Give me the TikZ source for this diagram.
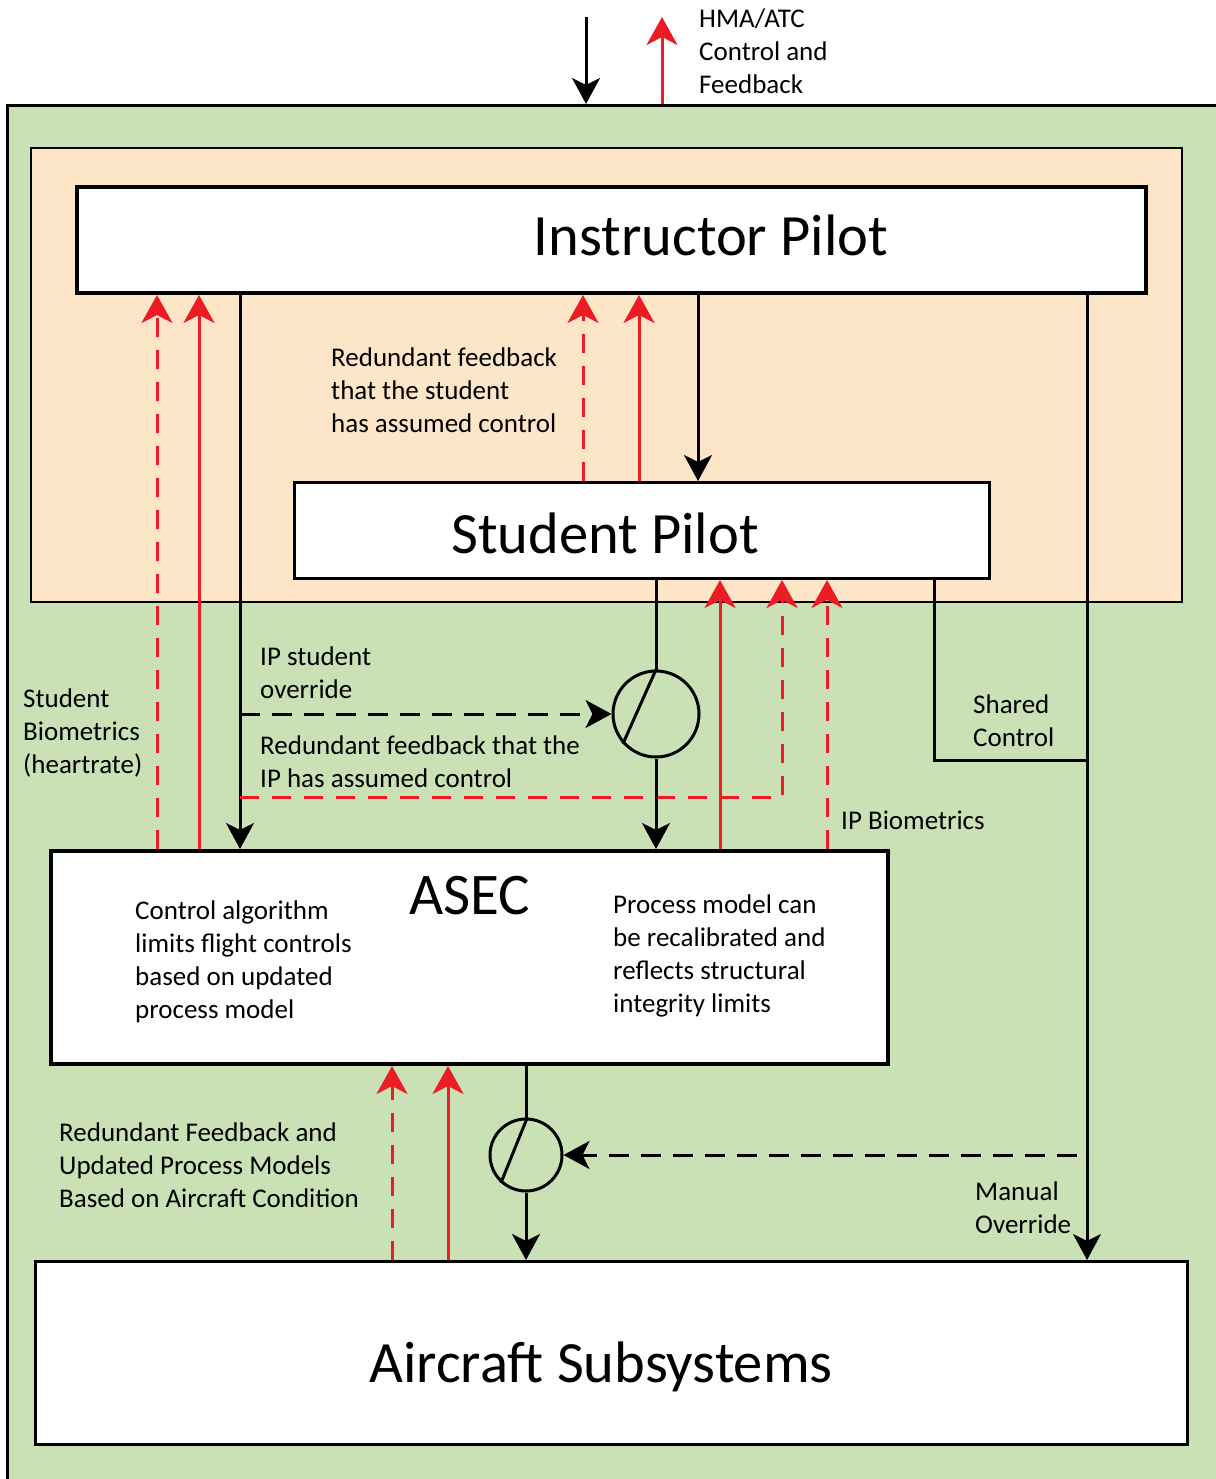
\documentclass[tikz,border=0pt]{standalone}
\usepackage{fontspec}
\setmainfont{Carlito}
\usetikzlibrary{arrows.meta}
\definecolor{bggreen}{RGB}{201,225,181}
\definecolor{peach}{RGB}{253,230,200}
\definecolor{fbred}{RGB}{237,28,36}

\begin{document}
\begin{tikzpicture}[x=1pt,y=-1pt,
  box/.style={draw=black, line width=4pt, fill=white, inner sep=0pt},
  title/.style={font=\fontsize{58.5}{66}\selectfont, anchor=base, inner sep=0pt},
  % multi-line labels are placed by the baseline of their last line
  lbl/.style={font=\fontsize{27}{33}\selectfont, align=left, anchor=base west, inner sep=0pt},
  ctl/.style={draw=black, line width=3pt},
  ctlarr/.style={ctl, -{Stealth[length=26pt,width=28pt,inset=7pt]}},
  ctldash/.style={ctlarr, dash pattern=on 20pt off 12pt},
  fb/.style={draw=fbred, line width=3pt, -{Stealth[length=28pt,width=31pt,inset=8pt]}},
  fbdash/.style={fb, dash pattern=on 19pt off 13pt},
  switch/.style={circle, draw=black, line width=3pt, fill=none, inner sep=0pt},
  ]
\useasboundingbox (0,0) rectangle (1215,1479);

% environment and cockpit regions
\node[draw=black, line width=3pt, fill=bggreen, inner sep=0pt,
      minimum width=1230pt, minimum height=1400pt, anchor=north west] (env) at (6,104) {};
\node[draw=black, line width=2pt, fill=peach, inner sep=0pt,
      minimum width=1151pt, minimum height=454pt, anchor=north west] (cockpit) at (30,147) {};

% main blocks
\node[box, minimum width=1069pt, minimum height=106pt, anchor=north west] (ip) at (75,185) {};
\node[title] (ipT) at (711,255) {Instructor Pilot};
\node[box, line width=3pt, minimum width=695pt, minimum height=96pt, anchor=north west] (sp) at (293,481) {};
\node[title] (spT) at (605,553) {Student Pilot};
\node[box, minimum width=837pt, minimum height=213pt, anchor=north west] (asec) at (49,849) {};
\node[font=\fontsize{59}{66}\selectfont, anchor=base, inner sep=0pt] (asecT) at (470,914) {ASEC};
\node[box, line width=3pt, minimum width=1152pt, minimum height=183pt, anchor=north west] (ac) at (34,1260) {};
\node[title] (acT) at (601,1382) {Aircraft Subsystems};

% switches
\node[switch, minimum size=86pt] (sw1) at (656,714) {};
\draw[ctl] (sw1.90) -- (sw1.222);
\node[switch, minimum size=72pt] (sw2) at (526,1155) {};
\draw[ctl] (sw2.88) -- (sw2.228);

% column positions of the vertical connectors
\foreach \cx in {157,199,240,392,448,583,639,698,720,782,827,934,1087}
  \coordinate (c\cx) at (\cx,0);
\coordinate (hin) at (586,17);
\coordinate (hout) at (662,17);
\coordinate (ovr) at (240,714);
\coordinate (ipfb) at (240,797);
\coordinate (shj) at (1087,760);
\coordinate (mo) at (1077,1155);

% external control and feedback
\draw[ctlarr] (hin) -- (env.north -| hin);
\draw[fb] (env.north -| hout) -- (hout);

% ASEC <-> instructor pilot
\draw[fbdash] (asec.north -| c157) -- (ip.south -| c157);
\draw[fb] (asec.north -| c199) -- (ip.south -| c199);
\draw[ctlarr] (ip.south -| c240) -- (asec.north -| c240);
\draw[ctldash] (ovr) -- (sw1.west);
\draw[fbdash] (ipfb) -| (sp.south -| c782);

% student pilot <-> instructor pilot
\draw[fbdash] (sp.north -| c583) -- (ip.south -| c583);
\draw[fb] (sp.north -| c639) -- (ip.south -| c639);
\draw[ctlarr] (ip.south -| c698) -- (sp.north -| c698);

% student pilot <-> ASEC
\draw[ctl] (sp.south -| sw1) -- (sw1.north);
\draw[ctlarr] (sw1.south) -- (asec.north -| sw1);
\draw[fb] (asec.north -| c720) -- (sp.south -| c720);
\draw[fbdash] (asec.north -| c827) -- (sp.south -| c827);

% shared control and manual override
\draw[ctl] (sp.south -| c934) |- (shj);
\draw[ctlarr] (ip.south -| c1087) -- (ac.north -| c1087);
\draw[ctldash] (mo) -- (sw2.east);

% ASEC <-> aircraft subsystems
\draw[ctl] (asec.south -| sw2) -- (sw2.north);
\draw[ctlarr] (sw2.south) -- (ac.north -| sw2);
\draw[fbdash] (ac.north -| c392) -- (asec.south -| c392);
\draw[fb] (ac.north -| c448) -- (asec.south -| c448);

% labels
\node[lbl] (lHma) at (699,94) {HMA/ATC\\Control and\\Feedback};
\node[lbl] (lStu) at (331,432) {Redundant feedback\\that the student\\has assumed control};
\node[lbl] (lOvr) at (260,698) {IP student\\override};
\node[lbl] (lBio) at (23,773) {Student\\Biometrics\\(heartrate)};
\node[lbl] (lIpfb) at (260,787) {Redundant feedback that the\\IP has assumed control};
\node[lbl] (lShared) at (973,746) {Shared\\Control};
\node[lbl] (lIpBio) at (841,829) {IP Biometrics};
\node[lbl] (lAlg) at (135,1018) {Control algorithm\\limits flight controls\\based on updated\\process model};
\node[lbl] (lProc) at (613,1012) {Process model can\\be recalibrated and\\reflects structural\\integrity limits};
\node[lbl] (lAc) at (59,1207) {Redundant Feedback and\\Updated Process Models\\Based on Aircraft Condition};
\node[lbl] (lMan) at (975,1233) {Manual\\Override};
\end{tikzpicture}
\end{document}
